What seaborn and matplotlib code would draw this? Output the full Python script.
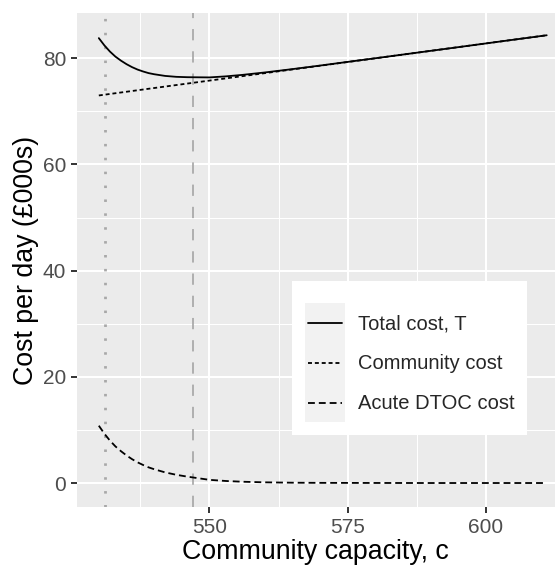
import numpy as np
import pandas as pd
import seaborn as sns
import matplotlib.pyplot as plt
from matplotlib.lines import Line2D
from matplotlib.patches import Rectangle
from matplotlib.legend_handler import HandlerBase
from matplotlib.ticker import MultipleLocator, FixedLocator

# ============================
#  data
# ============================

capacity = [530, 531, 532, 533, 534, 535, 536, 537, 538, 539, 540, 542, 544,
            546, 548, 550, 553, 556, 560, 565, 570, 580, 590, 600, 611]

community_cost = [73.00, 73.14, 73.28, 73.42, 73.56, 73.70, 73.84, 73.98, 74.12,
                  74.26, 74.40, 74.68, 74.96, 75.24, 75.52, 75.80, 76.22, 76.64,
                  77.20, 77.90, 78.60, 80.00, 81.40, 82.80, 84.34]

acute_cost = [10.80, 9.30, 8.00, 6.90, 6.00, 5.20, 4.50, 3.90, 3.40, 2.95, 2.60,
              2.00, 1.55, 1.20, 0.90, 0.60, 0.38, 0.24, 0.13, 0.06, 0.03, 0.01,
              0.00, 0.00, 0.00]

total_cost = [83.80, 82.44, 81.28, 80.32, 79.56, 78.90, 78.34, 77.88, 77.52, 77.21,
              77.00, 76.68, 76.51, 76.44, 76.42, 76.40, 76.60, 76.88, 77.33, 77.96,
              78.63, 80.01, 81.40, 82.80, 84.34]

series_names = ['Total cost, T', 'Community cost', 'Acute DTOC cost']
vline_dotted = 531.2
vline_dashed = 547.1

# ============================
#  style
# ============================

sns.set_theme(style='darkgrid')
plt.rcParams['font.family'] = ['Liberation Sans', 'DejaVu Sans']
plt.rcParams.update({
    'axes.facecolor': '#EBEBEB',
    'grid.color': 'white',
    'axes.edgecolor': '#EBEBEB',
    'xtick.color': '#333333',
    'ytick.color': '#333333',
    'xtick.labelcolor': '#4D4D4D',
    'ytick.labelcolor': '#4D4D4D',
})

df = pd.DataFrame({
    'c': capacity * 3,
    'cost': total_cost + community_cost + acute_cost,
    'series': np.repeat(series_names, len(capacity)),
})

dash_map = {
    'Total cost, T': '',
    'Community cost': (2.2, 1.6),
    'Acute DTOC cost': (3.8, 2.2),
}


class KeyHandler(HandlerBase):
    """grey key box + line centred in the row (ggplot style)"""
    def create_artists(self, legend, orig_handle, xdescent, ydescent,
                       width, height, fontsize, trans):
        rect = Rectangle((-xdescent, -ydescent), width, height,
                         facecolor='#F2F2F2', edgecolor='none', transform=trans)
        y = height / 2 - ydescent
        line = Line2D([-xdescent + 2, width - xdescent - 2], [y, y],
                      color=orig_handle.get_color(), lw=orig_handle.get_linewidth(),
                      ls=orig_handle.get_linestyle(), transform=trans)
        line.set_dashes(orig_handle._unscaled_dash_pattern[1]) if orig_handle._unscaled_dash_pattern[1] else None
        return [rect, line]


fig = plt.figure(figsize=(5.55, 5.65), dpi=100)
ax = fig.add_axes([0.1382, 0.1032, 0.8618, 0.8733])

ax.axvline(vline_dotted, color='#A8A8A8', lw=2.0, ls=(0, (0.9, 4.1)), zorder=1)
ax.axvline(vline_dashed, color='#A8A8A8', lw=1.25, ls=(0, (6.5, 6.3)), zorder=1)

sns.lineplot(data=df, x='c', y='cost', style='series', dashes=dash_map,
             color='black', lw=1.3, ax=ax, legend=False, zorder=3)

ax.set_xlim(526.0, 612.5)
ax.set_ylim(-4.46, 88.48)
ax.xaxis.set_major_locator(FixedLocator([550, 575, 600]))
ax.xaxis.set_minor_locator(FixedLocator([537.5, 562.5, 587.5, 612.5]))
ax.yaxis.set_major_locator(MultipleLocator(20))
ax.yaxis.set_minor_locator(MultipleLocator(10))
ax.grid(which='major', color='white', lw=1.5)
ax.grid(which='minor', color='white', lw=0.75)
ax.tick_params(which='major', length=4.5, width=1.4, pad=3, labelsize=15,
               bottom=True, left=True)
ax.tick_params(axis='x', which='major', pad=4)
ax.tick_params(which='minor', length=0)
for s in ax.spines.values():
    s.set_visible(False)

ax.set_xlabel('Community capacity, c', fontsize=19.3, color='black', labelpad=1)
ax.set_ylabel('Cost per day (£000s)', fontsize=19.3, color='black', labelpad=3)

# legend
handles = []
for name in series_names:
    d = dash_map[name]
    ls = '-' if d == '' else (0, d)
    handles.append(Line2D([0], [0], color='black', lw=1.3, ls=ls))
leg = ax.legend(handles, series_names, handler_map={Line2D: KeyHandler()},
                loc='upper left', bbox_to_anchor=(0.451, 0.4574), borderaxespad=0,
                fontsize=14.5, handlelength=2.0, handleheight=2.65, labelspacing=0,
                handletextpad=0.62, borderpad=0.62, title=' ', title_fontsize=8,
                frameon=True, fancybox=False, framealpha=1, facecolor='white',
                edgecolor='none')
leg.set_zorder(5)

fig.savefig('out.png', dpi=100)
